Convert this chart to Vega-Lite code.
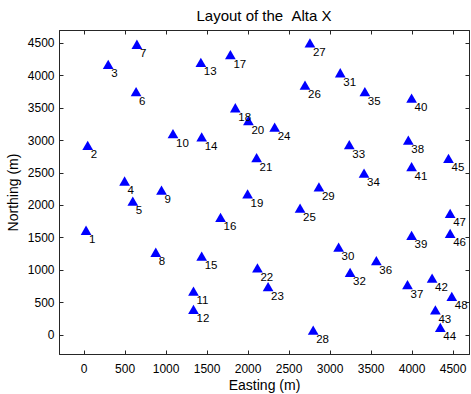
{
  "$schema": "https://vega.github.io/schema/vega-lite/v6.json",
  "width": 410,
  "height": 324,
  "autosize": {"type": "none"},
  "padding": {"left": 59, "top": 30, "right": 2, "bottom": 40},
  "title": {"text": "Layout of the \u00a0Alta X", "font": "Liberation Sans", "fontSize": 15, "fontWeight": "normal", "color": "black", "offset": 6},
  "config": {
    "view": {"stroke": "#262626", "strokeWidth": 1},
    "axis": {"labelFont": "Liberation Sans", "titleFont": "Liberation Sans", "labelFontSize": 12, "titleFontSize": 14, "titleFontWeight": "normal", "labelColor": "black", "titleColor": "black", "domainColor": "#262626", "tickColor": "#262626", "grid": false, "tickSize": -4, "format": "d"}
  },
  "data": {"values": [
    {"id": 1, "easting": 30, "northing": 1610},
    {"id": 2, "easting": 50, "northing": 2920},
    {"id": 3, "easting": 300, "northing": 4170},
    {"id": 4, "easting": 500, "northing": 2370},
    {"id": 5, "easting": 600, "northing": 2060},
    {"id": 6, "easting": 640, "northing": 3750},
    {"id": 7, "easting": 650, "northing": 4480},
    {"id": 8, "easting": 880, "northing": 1270},
    {"id": 9, "easting": 950, "northing": 2230},
    {"id": 10, "easting": 1090, "northing": 3100},
    {"id": 11, "easting": 1340, "northing": 670},
    {"id": 12, "easting": 1340, "northing": 390},
    {"id": 13, "easting": 1430, "northing": 4200},
    {"id": 14, "easting": 1440, "northing": 3050},
    {"id": 15, "easting": 1440, "northing": 1210},
    {"id": 16, "easting": 1670, "northing": 1810},
    {"id": 17, "easting": 1790, "northing": 4320},
    {"id": 18, "easting": 1850, "northing": 3500},
    {"id": 19, "easting": 2000, "northing": 2170},
    {"id": 20, "easting": 2010, "northing": 3300},
    {"id": 21, "easting": 2110, "northing": 2730},
    {"id": 22, "easting": 2120, "northing": 1030},
    {"id": 23, "easting": 2250, "northing": 740},
    {"id": 24, "easting": 2330, "northing": 3200},
    {"id": 25, "easting": 2640, "northing": 1950},
    {"id": 26, "easting": 2700, "northing": 3850},
    {"id": 27, "easting": 2760, "northing": 4500},
    {"id": 28, "easting": 2800, "northing": 70},
    {"id": 29, "easting": 2870, "northing": 2280},
    {"id": 30, "easting": 3110, "northing": 1350},
    {"id": 31, "easting": 3130, "northing": 4040},
    {"id": 32, "easting": 3250, "northing": 960},
    {"id": 33, "easting": 3240, "northing": 2930},
    {"id": 34, "easting": 3420, "northing": 2490},
    {"id": 35, "easting": 3430, "northing": 3750},
    {"id": 36, "easting": 3570, "northing": 1140},
    {"id": 37, "easting": 3950, "northing": 770},
    {"id": 38, "easting": 3960, "northing": 3000},
    {"id": 39, "easting": 4000, "northing": 1530},
    {"id": 40, "easting": 4000, "northing": 3650},
    {"id": 41, "easting": 4000, "northing": 2590},
    {"id": 42, "easting": 4250, "northing": 870},
    {"id": 43, "easting": 4290, "northing": 380},
    {"id": 44, "easting": 4350, "northing": 110},
    {"id": 45, "easting": 4450, "northing": 2720},
    {"id": 46, "easting": 4470, "northing": 1560},
    {"id": 47, "easting": 4470, "northing": 1870},
    {"id": 48, "easting": 4490, "northing": 590}
  ]},
  "layer": [
    {
      "mark": {"type": "point", "shape": "triangle-up", "filled": true, "color": "#0000ff", "opacity": 1, "size": 115},
      "encoding": {
        "x": {"field": "easting", "type": "quantitative", "scale": {"domain": [-300, 4700], "nice": false}, "axis": {"title": "Easting (m)", "values": [0,500,1000,1500,2000,2500,3000,3500,4000,4500], "labelPadding": 13, "titlePadding": 4}},
        "y": {"field": "northing", "type": "quantitative", "scale": {"domain": [-300, 4700], "nice": false}, "axis": {"title": "Northing (m)", "values": [0,500,1000,1500,2000,2500,3000,3500,4000,4500], "labelPadding": 9, "titlePadding": 7}}
      }
    },
    {
      "mark": {"type": "text", "align": "left", "baseline": "middle", "dx": 3, "dy": 10, "font": "Liberation Sans", "fontSize": 11.5, "color": "black"},
      "encoding": {
        "x": {"field": "easting", "type": "quantitative", "axis": null},
        "y": {"field": "northing", "type": "quantitative", "axis": null},
        "text": {"field": "id", "type": "nominal"}
      }
    },
    {
      "mark": {"type": "point", "opacity": 0},
      "encoding": {
        "x": {"field": "easting", "type": "quantitative", "axis": {"orient": "top", "labels": false, "title": null, "values": [0,500,1000,1500,2000,2500,3000,3500,4000,4500]}},
        "y": {"field": "northing", "type": "quantitative", "axis": {"orient": "right", "labels": false, "title": null, "values": [0,500,1000,1500,2000,2500,3000,3500,4000,4500]}}
      }
    }
  ],
  "resolve": {"axis": {"x": "independent", "y": "independent"}}
}
